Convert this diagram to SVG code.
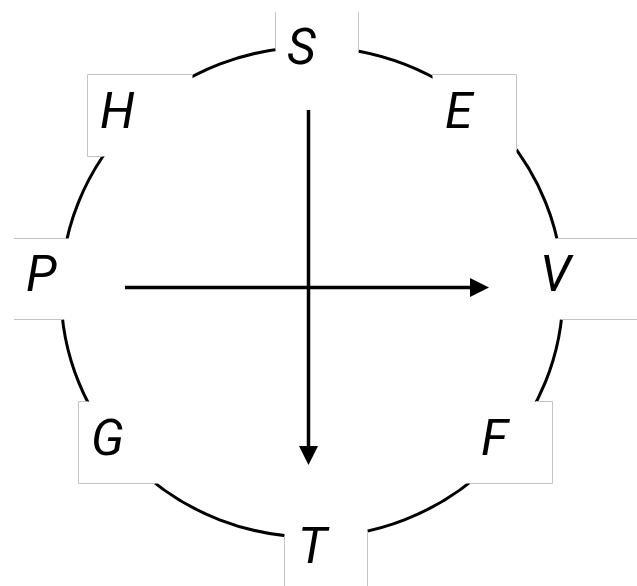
<svg xmlns="http://www.w3.org/2000/svg" width="637" height="586" viewBox="0 0 637 586">
<style>
.ring{fill:none;stroke:#000;stroke-width:3}
.bg{fill:#fff;stroke:none}
.edge{fill:none;stroke:#c4c4c4;stroke-width:1}
.lbl{font-family:Roboto,"Liberation Sans",sans-serif;font-style:italic;font-size:50px;fill:#000}
.arr{fill:none;stroke:#000;stroke-width:3.5}
</style>
<defs>
<marker id="ah" markerUnits="userSpaceOnUse" markerWidth="20" markerHeight="20" refX="10" refY="9.5" orient="auto">
<path d="M0,0 L19,9.5 L0,19 Z" fill="#000"/>
</marker>
</defs>
<rect width="637" height="586" fill="#fff"/>
<ellipse class="ring" cx="312" cy="292" rx="251" ry="245"/>
<g id="node-S">
<rect class="bg" x="275.5" y="12" width="83" height="82"/>
<path class="edge" d="M275.5,12 V49 M358.5,12 V51"/>
<text class="lbl" x="287" y="64">S</text>
</g>
<g id="node-H">
<rect class="bg" x="87.5" y="74.5" width="105" height="82"/>
<path class="edge" d="M192,74.5 H87.5 V156.5 H102"/>
<text class="lbl" x="100" y="128">H</text>
</g>
<g id="node-E">
<rect class="bg" x="432.5" y="74.5" width="84" height="82"/>
<path class="edge" d="M432.5,76 V74.5 H516.5 V150"/>
<text class="lbl" x="445" y="128">E</text>
</g>
<g id="node-P">
<rect class="bg" x="14" y="238.5" width="83" height="81"/>
<path class="edge" d="M14,238.5 H66 M14,319.5 H63"/>
<text class="lbl" x="26" y="291">P</text>
</g>
<g id="node-V">
<rect class="bg" x="527" y="238.5" width="112" height="81"/>
<path class="edge" d="M557,238.5 H637 M561,319.5 H637"/>
<text class="lbl" x="540" y="291">V</text>
</g>
<g id="node-G">
<rect class="bg" x="78.5" y="401.5" width="88" height="82"/>
<path class="edge" d="M87,401.5 H78.5 V483.5 H155"/>
<text class="lbl" x="91" y="455">G</text>
</g>
<g id="node-F">
<rect class="bg" x="462" y="401.5" width="91" height="82"/>
<path class="edge" d="M536,401.5 H552.5 V483.5 H470"/>
<text class="lbl" x="481" y="455">F</text>
</g>
<g id="node-T">
<rect class="bg" x="284.5" y="504" width="83" height="86"/>
<path class="edge" d="M284.5,536 V586 M367.5,531 V586"/>
<text class="lbl" x="298" y="563">T</text>
</g>
<g id="connectors">
<path class="arr" d="M125,287.5 H480" marker-end="url(#ah)"/>
<path class="arr" d="M308.5,110 V456" marker-end="url(#ah)"/>
</g>
</svg>
